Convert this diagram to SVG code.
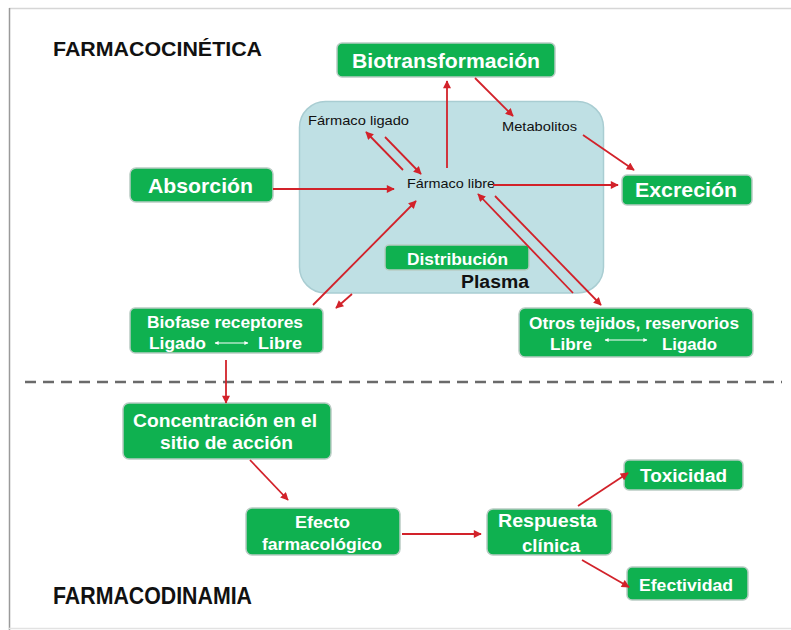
<svg xmlns="http://www.w3.org/2000/svg" width="791" height="630" viewBox="0 0 791 630">
<style>
.node{fill:#0fb150;stroke:#b9ccc4;stroke-width:1.5}
.wt{fill:#ffffff;font-family:"Liberation Sans",Arial,sans-serif;font-weight:bold}
.bt{fill:#111111;font-family:"Liberation Sans",Arial,sans-serif}
.c{stroke:#d2222a;stroke-width:1.8;fill:none;marker-end:url(#ah)}
.dbl{stroke:#ffffff;stroke-width:1.2;marker-start:url(#wh);marker-end:url(#wh)}
</style>
<defs>
<marker id="ah" viewBox="0 0 10 10" refX="9" refY="5" markerWidth="9" markerHeight="8" markerUnits="userSpaceOnUse" orient="auto">
<path d="M0,0 L10,5 L0,10 z" fill="#d2222a"/>
</marker>
<marker id="wh" viewBox="0 0 10 10" refX="9" refY="5" markerWidth="5" markerHeight="4" markerUnits="userSpaceOnUse" orient="auto-start-reverse">
<path d="M0,0 L10,5 L0,10 z" fill="#ffffff"/>
</marker>
</defs>
<rect x="0" y="0" width="791" height="630" fill="#ffffff"/>
<g id="frame">
<line x1="9" y1="8.5" x2="791" y2="8.5" stroke="#d6d6d6" stroke-width="1.5"/>
<line x1="9.5" y1="8" x2="9.5" y2="630" stroke="#9a9a9a" stroke-width="1.5"/>
<line x1="9" y1="628.5" x2="791" y2="628.5" stroke="#e2e2e2" stroke-width="1.5"/>
</g>
<g id="plasma">
<rect x="299.5" y="101.5" width="304" height="191.5" rx="26" fill="#bfe0e4" stroke="#a9cdd2" stroke-width="1.5"/>
<text class="bt" x="461" y="288" font-size="18" font-weight="bold" textLength="68" lengthAdjust="spacingAndGlyphs">Plasma</text>
</g>
<g id="titles">
<text class="bt" x="53" y="56" font-size="20" font-weight="bold" textLength="209" lengthAdjust="spacingAndGlyphs">FARMACOCINÉTICA</text>
<text class="bt" x="53" y="604" font-size="23" font-weight="bold" textLength="199" lengthAdjust="spacingAndGlyphs">FARMACODINAMIA</text>
</g>
<g id="farmaco-ligado"><text class="bt" x="308" y="125" font-size="13" textLength="101" lengthAdjust="spacingAndGlyphs">Fármaco ligado</text></g>
<g id="metabolitos"><text class="bt" x="502" y="131" font-size="13" textLength="75" lengthAdjust="spacingAndGlyphs">Metabolitos</text></g>
<g id="farmaco-libre"><text class="bt" x="407" y="188" font-size="13" textLength="88" lengthAdjust="spacingAndGlyphs">Fármaco libre</text></g>
<g id="biotransformacion">
<rect class="node" x="337" y="43" width="218" height="34" rx="5"/>
<text class="wt" x="352" y="68" font-size="20" textLength="188" lengthAdjust="spacingAndGlyphs">Biotransformación</text>
</g>
<g id="absorcion">
<rect class="node" x="130" y="168" width="143" height="34" rx="6"/>
<text class="wt" x="148" y="193" font-size="21" textLength="105" lengthAdjust="spacingAndGlyphs">Absorción</text>
</g>
<g id="excrecion">
<rect class="node" x="622" y="175" width="130" height="30" rx="5"/>
<text class="wt" x="635" y="197" font-size="21" textLength="102" lengthAdjust="spacingAndGlyphs">Excreción</text>
</g>
<g id="distribucion">
<rect class="node" x="385" y="245" width="144" height="25" rx="4"/>
<text class="wt" x="407" y="265" font-size="17" textLength="101" lengthAdjust="spacingAndGlyphs">Distribución</text>
</g>
<g id="biofase">
<rect class="node" x="130" y="308" width="193" height="45" rx="5"/>
<text class="wt" x="147" y="328" font-size="17" textLength="156" lengthAdjust="spacingAndGlyphs">Biofase receptores</text>
<text class="wt" x="149" y="349" font-size="17" textLength="57" lengthAdjust="spacingAndGlyphs">Ligado</text>
<line class="dbl" x1="215" y1="343" x2="248" y2="343"/>
<text class="wt" x="258" y="349" font-size="17" textLength="44" lengthAdjust="spacingAndGlyphs">Libre</text>
</g>
<g id="otros-tejidos">
<rect class="node" x="519" y="308" width="234" height="49" rx="6"/>
<text class="wt" x="529" y="329" font-size="17" textLength="210" lengthAdjust="spacingAndGlyphs">Otros tejidos, reservorios</text>
<text class="wt" x="550" y="350" font-size="17" textLength="42" lengthAdjust="spacingAndGlyphs">Libre</text>
<line class="dbl" x1="605" y1="340" x2="647" y2="340"/>
<text class="wt" x="662" y="350" font-size="17" textLength="55" lengthAdjust="spacingAndGlyphs">Ligado</text>
</g>
<g id="concentracion">
<rect class="node" x="123" y="403" width="208" height="56" rx="6"/>
<text class="wt" x="133" y="427" font-size="19" textLength="184" lengthAdjust="spacingAndGlyphs">Concentración en el</text>
<text class="wt" x="160" y="449" font-size="19" textLength="133" lengthAdjust="spacingAndGlyphs">sitio de acción</text>
</g>
<g id="efecto">
<rect class="node" x="246" y="508" width="154" height="47" rx="6"/>
<text class="wt" x="295" y="528" font-size="17" textLength="55" lengthAdjust="spacingAndGlyphs">Efecto</text>
<text class="wt" x="262" y="550" font-size="17" textLength="120" lengthAdjust="spacingAndGlyphs">farmacológico</text>
</g>
<g id="respuesta">
<rect class="node" x="487" y="509" width="125" height="46" rx="6"/>
<text class="wt" x="498" y="527" font-size="19" textLength="99" lengthAdjust="spacingAndGlyphs">Respuesta</text>
<text class="wt" x="522" y="552" font-size="19" textLength="58" lengthAdjust="spacingAndGlyphs">clínica</text>
</g>
<g id="toxicidad">
<rect class="node" x="624" y="460" width="119" height="30" rx="5"/>
<text class="wt" x="640" y="482" font-size="18" textLength="87" lengthAdjust="spacingAndGlyphs">Toxicidad</text>
</g>
<g id="efectividad">
<rect class="node" x="627" y="567" width="121" height="33" rx="5"/>
<text class="wt" x="639" y="591" font-size="17" textLength="94" lengthAdjust="spacingAndGlyphs">Efectividad</text>
</g>
<g id="separator">
<line x1="25" y1="382" x2="782" y2="382" stroke="#6a6a6a" stroke-width="2.5" stroke-dasharray="11 7"/>
</g>
<g id="connectors">
<line class="c" x1="273" y1="189" x2="394" y2="189"/>
<line class="c" x1="447" y1="168" x2="447" y2="81"/>
<line class="c" x1="475" y1="78" x2="513" y2="116"/>
<line class="c" x1="583" y1="135" x2="634" y2="170"/>
<line class="c" x1="493" y1="185" x2="618" y2="185"/>
<line class="c" x1="403" y1="170" x2="366" y2="132"/>
<line class="c" x1="385" y1="137" x2="421" y2="174"/>
<line class="c" x1="313" y1="305" x2="416" y2="201"/>
<line class="c" x1="352" y1="294" x2="336" y2="308"/>
<line class="c" x1="573" y1="293" x2="478" y2="194"/>
<line class="c" x1="495" y1="196" x2="601" y2="305"/>
<line class="c" x1="226" y1="360" x2="226" y2="403"/>
<line class="c" x1="250" y1="460" x2="288" y2="500"/>
<line class="c" x1="402" y1="534" x2="481" y2="534"/>
<line class="c" x1="578" y1="506" x2="628" y2="473"/>
<line class="c" x1="582" y1="560" x2="629" y2="587"/>
</g>
</svg>
